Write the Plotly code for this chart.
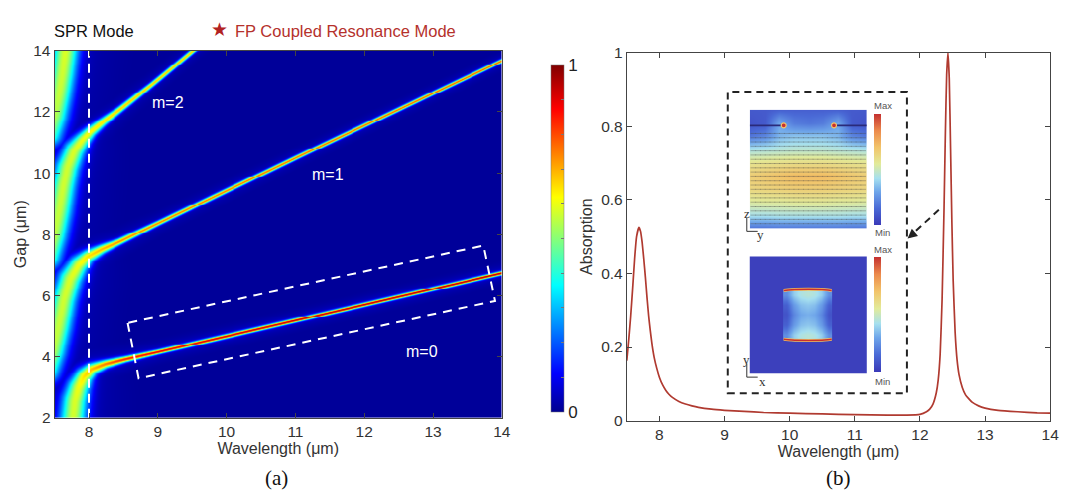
import numpy as np
import plotly.graph_objects as go

W, H = 1080, 493

# ---------------- Panel (b): absorption spectrum ----------------
wl_b = [7.50, 7.53, 7.56, 7.59, 7.62, 7.65, 7.685, 7.71, 7.735, 7.76, 7.785, 7.81,
        7.835, 7.86, 7.885, 7.92, 7.96, 8.00, 8.05, 8.10, 8.15, 8.20, 8.30, 8.40,
        8.50, 8.60, 8.80, 9.00, 9.30, 9.60, 10.0, 10.5, 11.0, 11.5, 11.8, 12.0,
        12.10, 12.15, 12.20, 12.25, 12.28, 12.31, 12.34, 12.37, 12.39, 12.41, 12.43,
        12.45, 12.47, 12.49, 12.51, 12.54, 12.57, 12.60, 12.65, 12.70, 12.80, 12.90,
        13.0, 13.2, 13.5, 13.8, 14.0]
abs_b = [0.163, 0.22, 0.285, 0.36, 0.44, 0.50, 0.525, 0.515, 0.485, 0.44, 0.39, 0.335,
         0.285, 0.245, 0.21, 0.172, 0.142, 0.118, 0.097, 0.082, 0.071, 0.063, 0.052, 0.045,
         0.040, 0.036, 0.031, 0.028, 0.025, 0.022, 0.020, 0.018, 0.016, 0.015, 0.015, 0.017,
         0.024, 0.031, 0.045, 0.075, 0.11, 0.18, 0.33, 0.58, 0.78, 0.94, 1.0,
         0.93, 0.74, 0.54, 0.38, 0.24, 0.165, 0.125, 0.09, 0.07, 0.05, 0.04,
         0.034, 0.028, 0.024, 0.021, 0.020]

# ---------------- Panel (a): resonance ridges read from the map ----------------
# each ridge: wavelength, gap, peak absorption, half-width (px)
r0_wl   = [7.73, 7.76, 7.79, 7.84, 7.92, 8.03, 8.23, 8.52, 9.00, 11.0, 14.1]
r0_gap  = [1.40, 2.00, 2.60, 3.00, 3.36, 3.60, 3.77, 3.93, 4.17, 5.20, 6.80]
r0_peak = [0.52, 0.53, 0.54, 0.56, 0.60, 0.64, 0.70, 0.78, 0.84, 0.88, 0.90]
r0_w    = [13, 13, 12.5, 11, 8.5, 6, 4, 2.8, 2.1, 1.9, 1.8]

r1_wl   = [7.38, 7.47, 7.55, 7.63, 7.72, 7.84, 7.97, 8.18, 8.42, 9.00, 11.0, 14.1]
r1_gap  = [3.60, 4.20, 5.00, 5.90, 6.55, 7.00, 7.28, 7.53, 7.76, 8.38, 10.52, 13.80]
r1_peak = [0.50, 0.51, 0.52, 0.53, 0.54, 0.56, 0.60, 0.64, 0.68, 0.70, 0.72, 0.74]
r1_w    = [13, 13, 13, 12.5, 12, 9.5, 6.5, 4.5, 3.0, 2.2, 1.9, 1.7]

r2_wl   = [7.40, 7.49, 7.56, 7.62, 7.68, 7.78, 7.90, 8.02, 8.20, 8.42, 8.90, 9.50, 9.80]
r2_gap  = [7.30, 8.00, 8.80, 9.60, 10.2, 10.75, 11.1, 11.38, 11.7, 12.06, 12.9, 14.0, 14.5]
r2_peak = [0.50, 0.51, 0.52, 0.53, 0.53, 0.54, 0.56, 0.58, 0.60, 0.62, 0.63, 0.63, 0.63]
r2_w    = [13, 13, 13, 12.5, 12, 10.5, 7.5, 5.5, 4.0, 3.0, 2.3, 2.1, 2.1]

r3_wl   = [7.42, 7.50, 7.56, 7.61, 7.65, 7.67]
r3_gap  = [11.3, 11.9, 12.6, 13.3, 14.0, 14.5]
r3_peak = [0.46, 0.50, 0.52, 0.53, 0.54, 0.54]
r3_w    = [13, 13, 13, 13, 13, 13]

# dashed guide rectangle (wavelength, gap) and SPR line
box_wl  = [8.56, 8.72, 13.90, 13.73, 8.56]
box_gap = [5.10, 3.29, 5.82, 7.63, 5.10]
spr_wl = 8.0

# colorbar ticks
cb_ticks = [0, 0.1, 0.2, 0.3, 0.4, 0.5, 0.6, 0.7, 0.8, 0.9, 1.0]
cb_text = ['0', '', '', '', '', '', '', '', '', '', '1']

# ---------------- build map image ----------------
lam = np.linspace(7.5, 14, 452)
gap = np.linspace(2, 14, 381)
PXX, PXY = 69.4, 31.67
Z = np.full((len(gap), len(lam)), 0.01)
U = (lam - 7.5) * PXX
for rw, rg, rp, rwd in [(r0_wl, r0_gap, r0_peak, r0_w), (r1_wl, r1_gap, r1_peak, r1_w),
                        (r2_wl, r2_gap, r2_peak, r2_w), (r3_wl, r3_gap, r3_peak, r3_w)]:
    u = (np.array(rw) - 7.5) * PXX
    v = (np.array(rg) - 2) * PXY
    s = np.concatenate([[0], np.cumsum(np.hypot(np.diff(u), np.diff(v)))])
    ss = np.linspace(0, s[-1], int(s[-1] * 2) + 2)
    uu = np.interp(ss, s, u); vv = np.interp(ss, s, v)
    pp = np.interp(ss, s, rp); ww = np.interp(ss, s, rwd)
    for i, g in enumerate(gap):
        V = (g - 2) * PXY
        m = np.abs(vv - V) < 80
        if not m.any():
            continue
        d2 = (U[:, None] - uu[None, m]) ** 2 + (V - vv[None, m]) ** 2
        w2 = ww[m] ** 2
        f = pp[m] * (np.exp(-d2 / w2) + 0.08 / (1 + d2 / (9 * w2)))
        Z[i] = np.maximum(Z[i], f.max(axis=1))
Z = np.round(np.clip(Z, 0, 1), 3)

jet = [[0.0, 'rgb(0,0,143)'], [0.111, 'rgb(0,0,255)'], [0.365, 'rgb(0,255,255)'],
       [0.619, 'rgb(255,255,0)'], [0.873, 'rgb(255,0,0)'], [1.0, 'rgb(128,0,0)']]
rainbow = [[0.0, '#3a3ab8'], [0.15, '#4a6ad6'], [0.30, '#6fa6ea'], [0.42, '#a6e0ef'],
           [0.55, '#e2eb9a'], [0.70, '#f2c46a'], [0.85, '#ec8a4c'], [1.0, '#c43030']]

# inset maps (read coarse values)
top_map = [
    [0.10, 0.10, 0.12, 0.12, 0.12, 0.12, 0.12, 0.10, 0.10],
    [0.08, 0.10, 0.30, 0.20, 0.18, 0.20, 0.30, 0.10, 0.08],
    [0.18, 0.22, 0.33, 0.36, 0.36, 0.36, 0.33, 0.22, 0.18],
    [0.44, 0.45, 0.46, 0.47, 0.47, 0.47, 0.46, 0.45, 0.44],
    [0.58, 0.59, 0.60, 0.61, 0.61, 0.61, 0.60, 0.59, 0.58],
    [0.66, 0.68, 0.70, 0.72, 0.72, 0.72, 0.70, 0.68, 0.66],
    [0.63, 0.64, 0.65, 0.66, 0.66, 0.66, 0.65, 0.64, 0.63],
    [0.54, 0.55, 0.55, 0.56, 0.56, 0.56, 0.55, 0.55, 0.54],
    [0.42, 0.42, 0.43, 0.43, 0.43, 0.43, 0.43, 0.42, 0.42],
    [0.16, 0.16, 0.17, 0.17, 0.17, 0.17, 0.17, 0.16, 0.16]]
square_map = [
    [0.24, 0.38, 0.44, 0.46, 0.44, 0.38, 0.24],
    [0.12, 0.27, 0.35, 0.37, 0.35, 0.27, 0.12],
    [0.08, 0.22, 0.30, 0.32, 0.30, 0.22, 0.08],
    [0.12, 0.27, 0.35, 0.37, 0.35, 0.27, 0.12],
    [0.24, 0.38, 0.44, 0.46, 0.44, 0.38, 0.24]]
square_x = [0.285, 0.705]
square_y = [0.285, 0.715]

def px(x):  # pixel -> paper x
    return x / W

def py(y):  # pixel -> paper y
    return 1 - y / H

FONT = "Liberation Sans, Arial, sans-serif"
SERIF = "Liberation Serif, Times New Roman, serif"
fig = go.Figure()

# ---- (a) map
fig.add_trace(go.Heatmap(
    x=lam, y=gap, z=Z, colorscale=jet, zmin=0, zmax=1, zsmooth='best',
    xaxis='x', yaxis='y',
    colorbar=dict(x=px(548), xanchor='left', y=py(229.5), yanchor='middle',
                  len=359 / H, lenmode='fraction', thickness=13, xpad=0, ypad=0,
                  tickvals=cb_ticks, ticktext=cb_text, ticks='inside', ticklen=3,
                  tickcolor='#777', tickwidth=0.8,
                  tickfont=dict(family=FONT, size=17, color='#222'),
                  outlinewidth=0.5, outlinecolor='#777')))
fig.add_trace(go.Scatter(x=[spr_wl, spr_wl], y=[2, 14], mode='lines',
                         line=dict(color='white', width=2, dash='9px,6px'),
                         xaxis='x', yaxis='y', showlegend=False, hoverinfo='skip'))
fig.add_trace(go.Scatter(x=box_wl, y=box_gap, mode='lines',
                         line=dict(color='white', width=2, dash='9px,7px'),
                         xaxis='x', yaxis='y', showlegend=False, hoverinfo='skip'))

# ---- (b) spectrum
fig.add_trace(go.Scatter(x=wl_b, y=abs_b, mode='lines', line=dict(color='#b03a30', width=1.7,
                         shape='spline', smoothing=0.4),
                         xaxis='x2', yaxis='y2', showlegend=False))

# ---- inset maps
fig.add_trace(go.Heatmap(z=top_map[::-1], x=np.linspace(0, 1, 9), y=np.linspace(0, 1, 10),
                         colorscale=rainbow, zmin=0, zmax=1, zsmooth='best',
                         xaxis='x3', yaxis='y3',
                         colorbar=dict(x=px(873), xanchor='left', y=py(157.5), yanchor='middle',
                                       len=115 / H, thickness=6.5, xpad=0, ypad=0,
                                       showticklabels=False, ticks='', outlinewidth=0)))
gx, gy = np.meshgrid(np.linspace(0.03, 0.97, 24), np.linspace(0.04, 0.80, 22))
fig.add_trace(go.Scatter(x=gx.ravel(), y=gy.ravel(), mode='markers',
                         marker=dict(symbol='line-ew', size=4,
                                     line=dict(color='rgba(70,70,70,0.45)', width=0.8)),
                         xaxis='x3', yaxis='y3', showlegend=False, hoverinfo='skip'))
fig.add_trace(go.Scatter(x=[0, 0.285, None, 0.725, 1], y=[0.868, 0.868, None, 0.868, 0.868],
                         mode='lines', line=dict(color='#2a2a7a', width=1.6),
                         xaxis='x3', yaxis='y3', showlegend=False, hoverinfo='skip'))
fig.add_trace(go.Scatter(x=[0.29, 0.72], y=[0.868, 0.868], mode='markers',
                         marker=dict(size=5, color='#c83030', line=dict(color='#f2c46a', width=1.2)),
                         xaxis='x3', yaxis='y3', showlegend=False, hoverinfo='skip'))

fig.add_trace(go.Heatmap(z=[[0.02, 0.02], [0.02, 0.02]], x=[0, 1], y=[0, 1],
                         colorscale=rainbow, zmin=0, zmax=1, xaxis='x4', yaxis='y4',
                         colorbar=dict(x=px(873), xanchor='left', y=py(308.5), yanchor='middle',
                                       len=119 / H, thickness=6.5, xpad=0, ypad=0,
                                       showticklabels=False, ticks='', outlinewidth=0)))
fig.add_trace(go.Heatmap(z=square_map, x=np.linspace(square_x[0], square_x[1], 8),
                         y=np.linspace(square_y[0], square_y[1], 6),
                         colorscale=rainbow, zmin=0, zmax=1, zsmooth='best',
                         xaxis='x4', yaxis='y4', showscale=False))
for yy in ([0.708, 0.716, 0.719, 0.716, 0.708], [0.292, 0.284, 0.281, 0.284, 0.292]):
    fig.add_trace(go.Scatter(x=[0.29, 0.36, 0.5, 0.64, 0.70], y=yy, mode='lines',
                             line=dict(color='#f0c060', width=3.0, shape='spline'),
                             xaxis='x4', yaxis='y4', showlegend=False, hoverinfo='skip'))
    fig.add_trace(go.Scatter(x=[0.29, 0.36, 0.5, 0.64, 0.70], y=yy, mode='lines',
                             line=dict(color='#c83030', width=1.5, shape='spline'),
                             xaxis='x4', yaxis='y4', showlegend=False, hoverinfo='skip'))

axcommon = dict(showline=True, linecolor='#444', linewidth=1, mirror='allticks',
                ticks='inside', ticklen=5, tickcolor='#444', showgrid=False, zeroline=False,
                tickfont=dict(family=FONT, size=15.5, color='#333'))
inset_ax = dict(range=[0, 1], showline=False, showgrid=False, zeroline=False,
                showticklabels=False, ticks='', fixedrange=True)
TT = dict(size=16, color='#333', family=FONT)

fig.update_layout(
    width=W, height=H, margin=dict(l=0, r=0, t=0, b=0),
    paper_bgcolor='white', plot_bgcolor='white', showlegend=False,
    font=dict(family=FONT, color='#333'),
    xaxis=dict(domain=[px(47), px(498)], range=[7.5, 14], tickvals=[8, 9, 10, 11, 12, 13, 14],
               title=dict(text='Wavelength (μm)', font=TT, standoff=3),
               anchor='y', **axcommon),
    yaxis=dict(domain=[py(415), py(35)], range=[2, 14], tickvals=[2, 4, 6, 8, 10, 12, 14],
               title=dict(text='Gap (μm)', font=TT, standoff=2),
               anchor='x', **axcommon),
    xaxis2=dict(domain=[px(624), px(1051)], range=[7.5, 14], tickvals=[8, 9, 10, 11, 12, 13, 14],
                title=dict(text='Wavelength (μm)', font=TT, standoff=3),
                anchor='y2', **axcommon),
    yaxis2=dict(domain=[py(418), py(37)], range=[0, 1], tickvals=[0, 0.2, 0.4, 0.6, 0.8, 1],
                ticktext=['0', '0.2', '0.4', '0.6', '0.8', '1'],
                title=dict(text='Absorption', font=TT, standoff=4),
                anchor='x2', **axcommon),
    xaxis3=dict(domain=[px(748), px(866)], anchor='y3', **inset_ax),
    yaxis3=dict(domain=[py(219), py(96)], anchor='x3', **inset_ax),
    xaxis4=dict(domain=[px(748), px(866)], anchor='y4', **inset_ax),
    yaxis4=dict(domain=[py(369), py(248)], anchor='x4', **inset_ax),
)

shapes = [
    dict(type='rect', xref='x2', yref='y2', x0=9.05, x1=11.8, y0=0.074, y1=0.893,
         line=dict(color='#222', width=2, dash='7px,5px')),
    dict(type='line', xref='x2', yref='y2', x0=12.29, y0=0.573, x1=11.87, y1=0.505,
         line=dict(color='#222', width=2, dash='7px,5px')),
]
# axis icons in inset
for (cx, cy) in [(745, 222), (745, 373)]:
    shapes.append(dict(type='line', xref='paper', yref='paper', x0=px(cx), y0=py(cy),
                       x1=px(cx), y1=py(cy - 14), line=dict(color='#333', width=1)))
    shapes.append(dict(type='line', xref='paper', yref='paper', x0=px(cx), y0=py(cy),
                       x1=px(cx + 11), y1=py(cy), line=dict(color='#333', width=1)))
fig.update_layout(shapes=shapes)

ann = []
def A(text, x, y, size=14, color='#222', family=FONT, xanchor='center', **kw):
    ann.append(dict(text=text, x=px(x), y=py(y), xref='paper', yref='paper', showarrow=False,
                    xanchor=xanchor, yanchor='middle', font=dict(size=size, color=color, family=family), **kw))

A('SPR Mode', 44, 14, 16.5, '#111', xanchor='left')
A('★', 213, 13, 19, '#b22222')
A('FP Coupled Resonance Mode', 227, 14, 16.5, '#b5312c', xanchor='left')
A('(a)', 271, 477, 21, '#111', SERIF)
A('(b)', 837, 477, 21, '#111', SERIF)
for t, y in [('Max', 92), ('Min', 223), ('Max', 241), ('Min', 377)]:
    A(t, 882, y, 9.5, '#555')
for t, x, y in [('z', 745, 203), ('y', 759, 225), ('y', 745, 355), ('x', 761, 377)]:
    A(t, x, y, 13, '#333', SERIF)

for t, x, y in [('m=2', 9.15, 12.3), ('m=1', 11.47, 9.96), ('m=0', 12.84, 4.18)]:
    ann.append(dict(text=t, x=x, y=y, xref='x', yref='y', showarrow=False,
                    font=dict(size=16, color='white', family=FONT)))
ann.append(dict(text='', x=11.81, y=0.495, xref='x2', yref='y2', ax=11.89, ay=0.507,
                axref='x2', ayref='y2', showarrow=True, arrowhead=2, arrowsize=1.2,
                arrowwidth=1.6, arrowcolor='#222'))
fig.update_layout(annotations=ann)

fig.write_html("out.html")
